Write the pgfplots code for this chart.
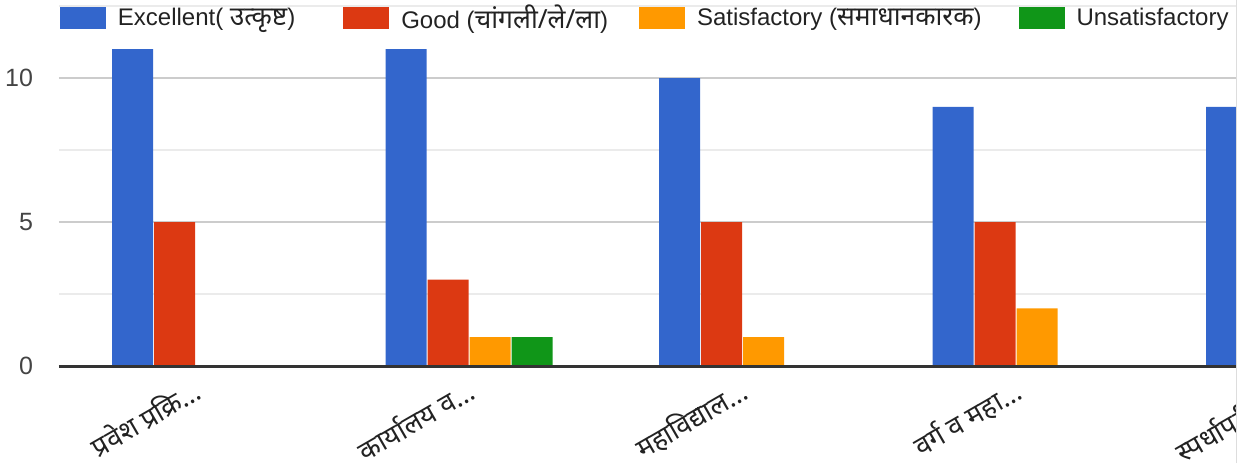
\documentclass[border=0pt]{standalone}
\usepackage{pgfplots}
\pgfplotsset{compat=1.18}
\usepackage{fontspec}
\setmainfont{Liberation Sans}
\newfontfamily\deva[Script=Devanagari]{Noto Sans}
\newcommand{\dv}[1]{{\deva\fontsize{13.2}{14}\selectfont #1}}
\definecolor{cblue}{HTML}{3366CC}
\definecolor{cred}{HTML}{DC3912}
\definecolor{corange}{HTML}{FF9900}
\definecolor{cgreen}{HTML}{109618}
\definecolor{gmaj}{HTML}{CCCCCC}
\definecolor{gmin}{HTML}{EBEBEB}
\definecolor{basec}{HTML}{333333}
\definecolor{ticktext}{HTML}{444444}
\definecolor{labtext}{HTML}{222222}
\definecolor{edge}{HTML}{DDDDDD}
\pgfplotsset{sqleg/.style={legend image code/.code={\fill[##1] (0pt,-5.5pt) rectangle (23pt,5.5pt);}}}
\begin{document}
\begin{tikzpicture}
\path[use as bounding box] (0,0) rectangle (627pt,231.5pt);
\begin{scope}
\clip (0,0) rectangle (618pt,231.5pt);
\begin{axis}[
  at={(29.375pt,48.5pt)}, anchor=south west,
  scale only axis, width=683.75pt, height=181.44pt,
  xmin=-0.5, xmax=4.5, ymin=0, ymax=12.6,
  ybar=0.5pt, bar width=20.5pt,
  clip mode=individual,
  axis line style={draw=none},
  major tick length=0pt, minor tick length=0pt,
  xtick={0,1,2,3,4},
  xticklabels={प्रवेश प्रक्रि…, कार्यालय व…, महाविद्याल…, वर्ग व महा…, स्पर्धापरीक्षा…},
  ytick={0,5,10}, minor ytick={2.5,7.5,12.5},
  ymajorgrids, yminorgrids,
  major grid style={gmaj, line width=1.2pt},
  minor grid style={gmin, line width=1.2pt},
  /pgf/number format/assume math mode=true,
  yticklabel style={font=\fontsize{12.5}{14}\selectfont, text=ticktext, anchor=east, inner sep=0pt, xshift=-12.7pt},
  xticklabel style={font=\deva\fontsize{13.6}{15}\selectfont, text=labtext, anchor=north east, inner sep=0pt, xshift=-2pt, yshift=-5pt, rotate=30},
  legend columns=4,
  legend cell align=left,
  legend style={draw=none, fill=none, at={(axis description cs:0,1)}, anchor=west, xshift=0.4pt, yshift=-7.6pt, inner sep=0pt,
    /tikz/every odd column/.append style={column sep=6pt},
    /tikz/every even column/.append style={column sep=20.5pt},
    nodes={inner sep=0pt, text=labtext, font=\fontsize{12}{14}\selectfont}},
]
\addplot[fill=cblue, draw=none, sqleg] coordinates {(0,11) (1,11) (2,10) (3,9) (4,9)};
\addplot[fill=cred, draw=none, sqleg] coordinates {(0,5) (1,3) (2,5) (3,5)};
\addplot[fill=corange, draw=none, sqleg] coordinates {(0,0) (1,1) (2,1) (3,2)};
\addplot[fill=cgreen, draw=none, sqleg] coordinates {(0,0) (1,1) (2,0) (3,0)};
\legend{Excellent( \dv{उत्कृष्ट})\kern3.5pt, Good (\dv{चांगली/ले/ला})\kern-5pt, Satisfactory (\dv{समाधानकारक})\kern-2pt, Unsatisfactory}
\draw[basec, line width=1.5pt] (axis cs:-0.5,0) -- (axis cs:4.5,0);
\end{axis}
\end{scope}
\draw[edge, line width=0.6pt] (618.3pt,0) -- (618.3pt,231.5pt);
\end{tikzpicture}
\end{document}
